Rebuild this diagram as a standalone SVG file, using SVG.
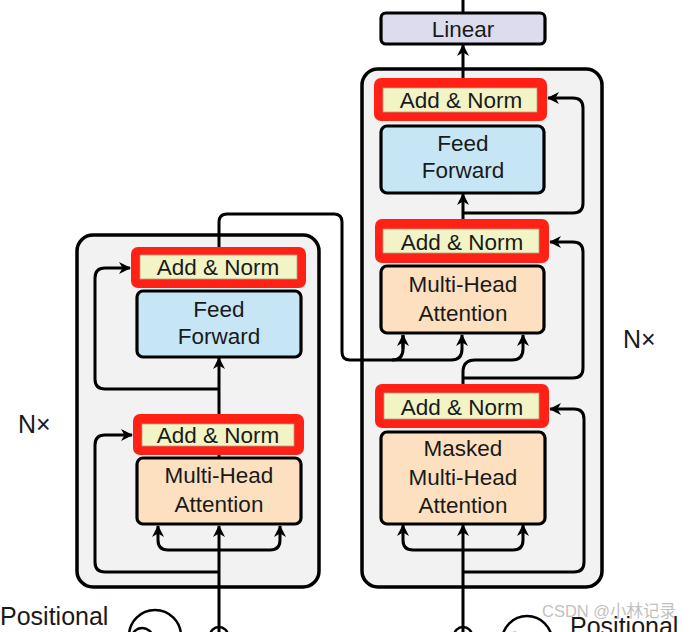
<svg xmlns="http://www.w3.org/2000/svg" width="694" height="632" viewBox="0 0 694 632">
<style>
text{font-family:"Liberation Sans",Arial,sans-serif;fill:#1a1a1a;text-anchor:middle}
.lbl{font-size:22.5px}
.blk{fill:#f2f2f2;stroke:#000;stroke-width:3.5}
.red{fill:#ff2016;stroke:none}
.an{fill:#f2f4c6;stroke:#b0a080;stroke-width:0.8}
.ff{fill:#c6e6f6;stroke:#000;stroke-width:3.2}
.mha{fill:#fde0bf;stroke:#000;stroke-width:3.2}
.lin{fill:#dcdcee;stroke:#000;stroke-width:3.2}
.c{fill:none;stroke:#000;stroke-width:3}
.ca{fill:none;stroke:#000;stroke-width:3;marker-end:url(#ah)}
.side{font-size:25px;text-anchor:start}
</style>
<defs>
<marker id="ah" viewBox="0 0 12 12" refX="11" refY="6" markerWidth="12" markerHeight="12" markerUnits="userSpaceOnUse" orient="auto">
<path d="M0,0 L12,6 L0,12 L3.5,6 z" fill="#000"/>
</marker>
</defs>

<g id="encoder-block"><rect class="blk" x="77" y="235" width="242" height="352" rx="16"/></g>
<g id="decoder-block"><rect class="blk" x="362" y="69" width="240" height="518" rx="16"/></g>

<g id="connectors">
<path class="ca" d="M219,632 V526"/>
<path class="ca" d="M219,550 H168 Q158,550 158,540 V526"/>
<path class="ca" d="M219,550 H270 Q280,550 280,540 V526"/>
<path class="ca" d="M219,572 H105 Q95,572 95,562 V445 Q95,435 105,435 H132"/>
<path class="c" d="M219,458 V455"/>
<path class="ca" d="M219,414 V358"/>
<path class="ca" d="M219,389 H105 Q95,389 95,379 V278 Q95,268 105,268 H130"/>
<path class="c" d="M219,247 V222 Q219,214 227,214 H334 Q342,214 342,222 V352 Q342,360 350,360 H392 Q403,360 403,349 V335"/>
<path class="ca" d="M403,349 V335"/>
<path class="ca" d="M392,360 H451 Q462,360 462,349 V335"/>
<path class="ca" d="M463,632 V525"/>
<path class="ca" d="M463,550 H413 Q403,550 403,540 V525"/>
<path class="ca" d="M463,550 H513 Q523,550 523,540 V525"/>
<path class="ca" d="M463,572 H574 Q584,572 584,562 V419 Q584,409 574,409 H550"/>
<path class="ca" d="M463,384 V372 Q463,360 475,360 H512 Q523,360 523,349 V335"/>
<path class="c" d="M463,378 H573 Q583,378 583,368 V252 Q583,242 573,242 H562"/>
<path class="ca" d="M562,242 H550"/>
<path class="ca" d="M463,219 V194"/>
<path class="ca" d="M463,213 H573 Q583,213 583,203 V108 Q583,98 573,98 H548"/>
<path class="ca" d="M463,78 V45"/>
<path class="c" d="M463,13 V0"/>
</g>

<g id="enc-mha">
<rect class="mha" x="137" y="458" width="164" height="66" rx="6"/>
<text class="lbl" x="219" y="483">Multi-Head</text>
<text class="lbl" x="219" y="512">Attention</text>
</g>
<g id="enc-addnorm1">
<rect class="red" x="133" y="414" width="171" height="41" rx="7"/>
<rect class="an" x="142" y="424" width="152" height="22"/>
<text class="lbl" x="218" y="443">Add &amp; Norm</text>
</g>
<g id="enc-ff">
<rect class="ff" x="137" y="291" width="164" height="66" rx="6"/>
<text class="lbl" x="219" y="317">Feed</text>
<text class="lbl" x="219" y="344">Forward</text>
</g>
<g id="enc-addnorm2">
<rect class="red" x="131" y="247" width="175" height="41" rx="7"/>
<rect class="an" x="140" y="255" width="157" height="24"/>
<text class="lbl" x="218" y="275">Add &amp; Norm</text>
</g>

<g id="dec-masked-mha">
<rect class="mha" x="381" y="432" width="164" height="92" rx="6"/>
<text class="lbl" x="463" y="456">Masked</text>
<text class="lbl" x="463" y="485">Multi-Head</text>
<text class="lbl" x="463" y="513">Attention</text>
</g>
<g id="dec-addnorm1">
<rect class="red" x="375" y="384" width="174" height="44" rx="7"/>
<rect class="an" x="384" y="393" width="155" height="26"/>
<text class="lbl" x="462" y="415">Add &amp; Norm</text>
</g>
<g id="dec-mha">
<rect class="mha" x="381" y="266" width="163" height="67" rx="6"/>
<text class="lbl" x="463" y="292">Multi-Head</text>
<text class="lbl" x="463" y="321">Attention</text>
</g>
<g id="dec-addnorm2">
<rect class="red" x="375" y="219" width="174" height="44" rx="7"/>
<rect class="an" x="383" y="229" width="156" height="24"/>
<text class="lbl" x="462" y="250">Add &amp; Norm</text>
</g>
<g id="dec-ff">
<rect class="ff" x="381" y="126" width="163" height="67" rx="6"/>
<text class="lbl" x="463" y="151">Feed</text>
<text class="lbl" x="463" y="178">Forward</text>
</g>
<g id="dec-addnorm3">
<rect class="red" x="374" y="78" width="173" height="43" rx="7"/>
<rect class="an" x="383" y="88" width="154" height="24"/>
<text class="lbl" x="461" y="108">Add &amp; Norm</text>
</g>
<g id="linear">
<rect class="lin" x="381" y="13" width="164" height="31" rx="5"/>
<text class="lbl" x="463" y="37">Linear</text>
</g>

<g id="enc-nx"><text class="side" x="18" y="433">N×</text></g>
<g id="dec-nx"><text class="side" x="623" y="348">N×</text></g>

<g id="enc-input">
<circle cx="219" cy="636" r="9" fill="#fff" stroke="#000" stroke-width="2.5"/>
<path class="c" d="M219,627 V645"/>
<circle cx="155" cy="636" r="26" fill="#fff" stroke="#000" stroke-width="2.5"/>
<path d="M130,640 C134,624 150,624 155,640" fill="none" stroke="#000" stroke-width="2.5"/>
<text class="side" x="0" y="625">Positional</text>
</g>
<g id="dec-input">
<circle cx="463" cy="636" r="9" fill="#fff" stroke="#000" stroke-width="2.5"/>
<path class="c" d="M463,627 V645"/>
<circle cx="527" cy="641" r="25" fill="#fff" stroke="#000" stroke-width="2.5"/>
<path d="M503,645 C507,629 522,629 527,645" fill="none" stroke="#000" stroke-width="2.5"/>
<text class="side" x="570" y="635">Positional</text>
</g>
<text x="542" y="617" style="font-family:'Liberation Sans','Noto Sans CJK SC',sans-serif;font-size:16.5px;text-anchor:start;fill:#999;opacity:0.6">CSDN @小林记录</text>
</svg>
